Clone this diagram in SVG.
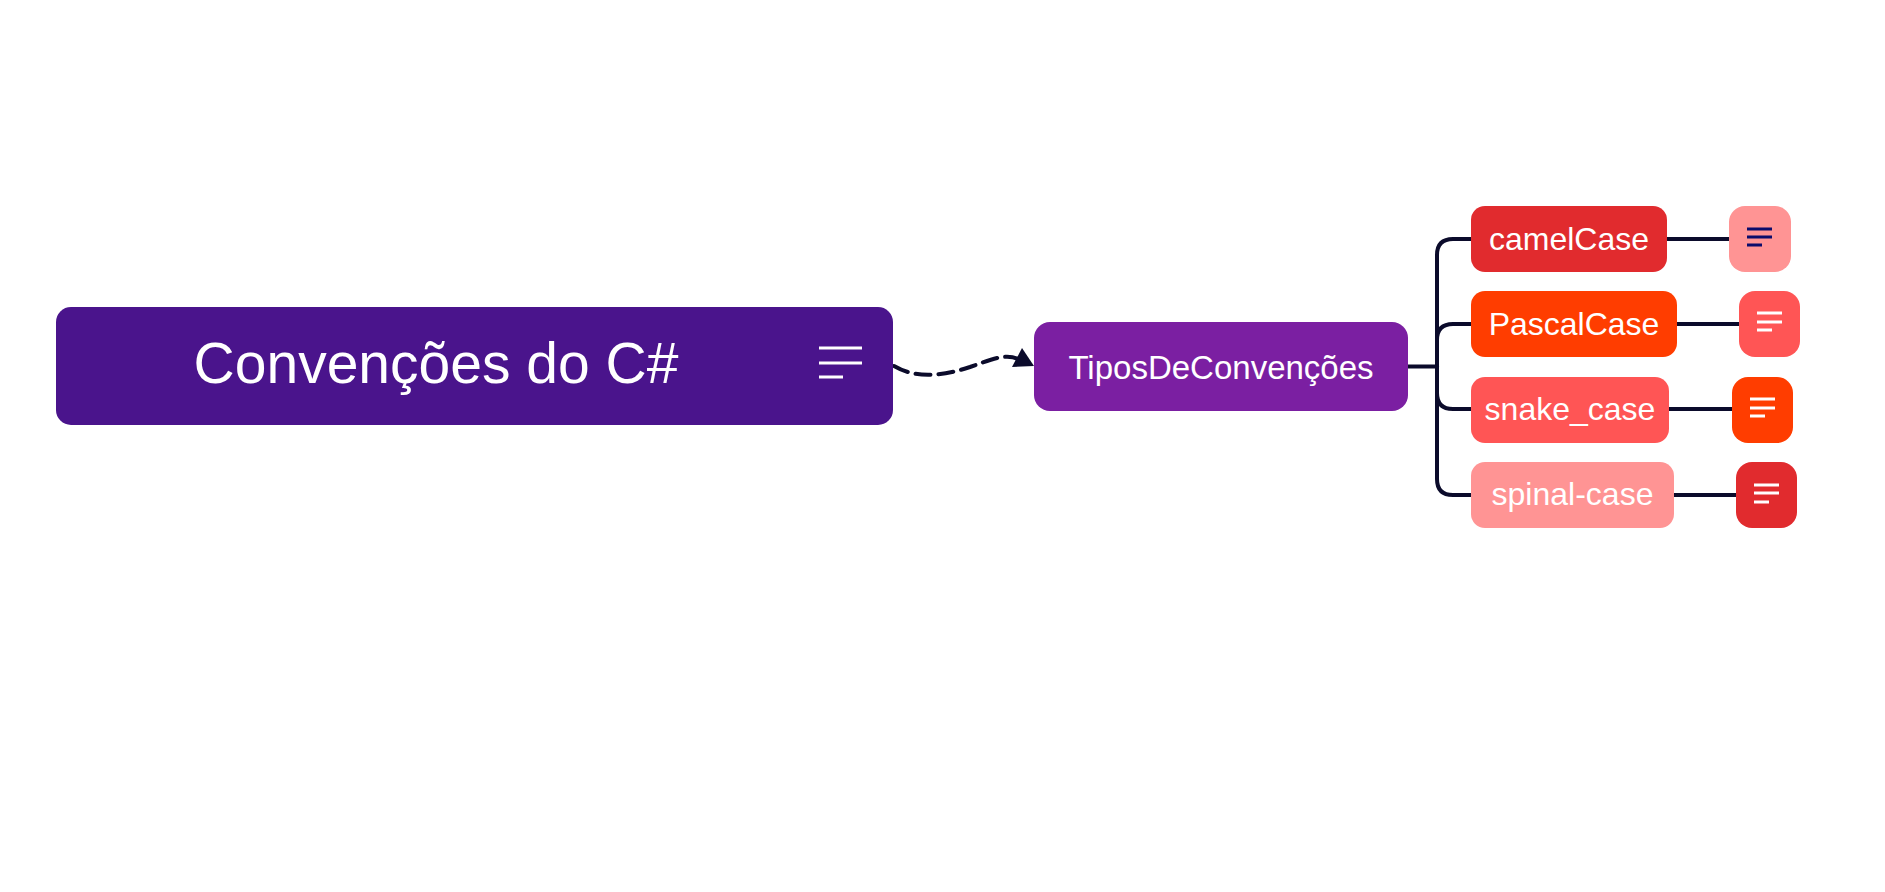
<svg xmlns="http://www.w3.org/2000/svg" width="1885" height="892" viewBox="0 0 1885 892">
<style>
.lbl{font-family:"Liberation Sans","DejaVu Sans",sans-serif;fill:#ffffff;text-anchor:middle}
.edge{fill:none;stroke:#0B0B2B;stroke-width:4;stroke-linecap:round}
.ico{fill:none;stroke:#ffffff;stroke-width:3}
.icod{fill:none;stroke:#0B0B6B;stroke-width:3}
</style>
<rect width="1885" height="892" fill="#ffffff"/>
<g id="connectors">
  <path class="edge" d="M894 366 C918 380 945 375 970 367 C990 360 1005 353 1018 359" stroke-dasharray="15 8" stroke-linecap="butt" stroke-width="5"/>
  <polygon points="1012,367 1022,348 1034,366" fill="#0B0B2B"/>
  <path class="edge" d="M1408 366.5 H1437"/>
  <path class="edge" d="M1437 366.5 V255 Q1437 239 1453 239 H1472"/>
  <path class="edge" d="M1437 366.5 V340 Q1437 324 1453 324 H1472"/>
  <path class="edge" d="M1437 366.5 V393 Q1437 409 1453 409 H1472"/>
  <path class="edge" d="M1437 366.5 V479 Q1437 495 1453 495 H1472"/>
  <path class="edge" d="M1667 239 H1730"/>
  <path class="edge" d="M1676 324 H1740"/>
  <path class="edge" d="M1669 409 H1732"/>
  <path class="edge" d="M1674 495 H1737"/>
</g>
<g id="node-root">
  <rect x="56" y="307" width="837" height="118" rx="15" fill="#4A148C"/>
  <text class="lbl" x="436" y="383" font-size="57">Convenções do C#</text>
  <path class="ico" d="M819 348 H862 M819 363 H862 M819 377 H843"/>
</g>
<g id="node-tipos">
  <rect x="1034" y="322" width="374" height="89" rx="16" fill="#7B1FA2"/>
  <text class="lbl" x="1221" y="379" font-size="33">TiposDeConvenções</text>
</g>
<g id="node-camel">
  <rect x="1471" y="206" width="196" height="66" rx="14" fill="#E12B2E"/>
  <text class="lbl" x="1569" y="250" font-size="32">camelCase</text>
</g>
<g id="node-pascal">
  <rect x="1471" y="291" width="206" height="66" rx="14" fill="#FF3D00"/>
  <text class="lbl" x="1574" y="335" font-size="32">PascalCase</text>
</g>
<g id="node-snake">
  <rect x="1471" y="377" width="198" height="66" rx="14" fill="#FF5555"/>
  <text class="lbl" x="1570" y="420" font-size="32">snake_case</text>
</g>
<g id="node-spinal">
  <rect x="1471" y="462" width="203" height="66" rx="14" fill="#FF9494"/>
  <text class="lbl" x="1572.5" y="505" font-size="32">spinal-case</text>
</g>
<g id="note-camel">
  <rect x="1729" y="206" width="62" height="66" rx="16" fill="#FF9494"/>
  <path class="icod" d="M1747 229 H1772 M1747 237 H1772 M1747 245 H1762"/>
</g>
<g id="note-pascal">
  <rect x="1739" y="291" width="61" height="66" rx="16" fill="#FF5555"/>
  <path class="ico" d="M1757 313 H1782 M1757 322 H1782 M1757 330 H1772"/>
</g>
<g id="note-snake">
  <rect x="1732" y="377" width="61" height="66" rx="16" fill="#FF3D00"/>
  <path class="ico" d="M1750 399 H1775 M1750 408 H1775 M1750 416 H1765"/>
</g>
<g id="note-spinal">
  <rect x="1736" y="462" width="61" height="66" rx="16" fill="#E12B2E"/>
  <path class="ico" d="M1754 485 H1779 M1754 493 H1779 M1754 502 H1769"/>
</g>
</svg>
